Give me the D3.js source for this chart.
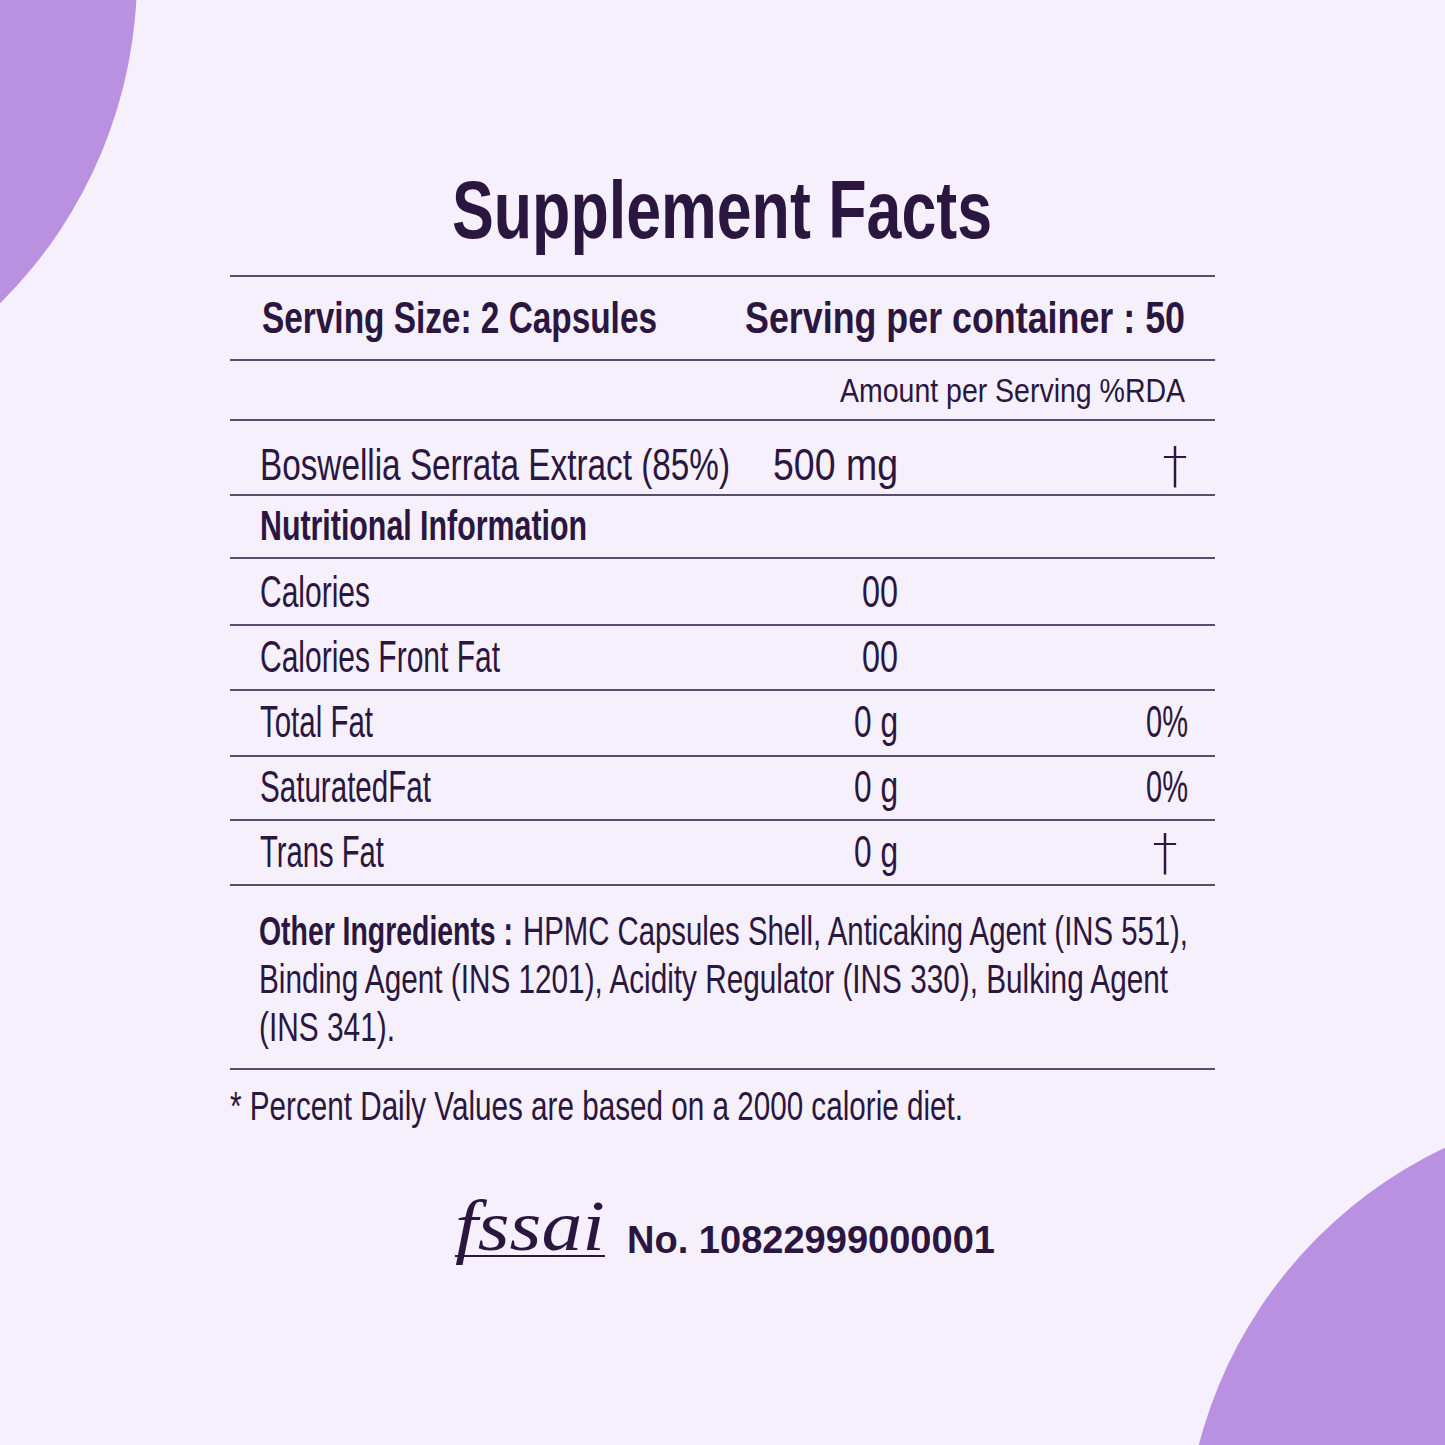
<!DOCTYPE html>
<html><head><meta charset="utf-8">
<script src="https://cdn.jsdelivr.net/npm/d3@7"></script>
<style>body{margin:0;background:#f5f0fb}</style>
</head><body><svg id="c"></svg>
<script>
const ink = "#2b1640";
const nutrients = ["Calories", "Calories Front Fat", "Total Fat", "SaturatedFat", "Trans Fat"];
const amounts = ["00", "00", "0 g", "0 g", "0 g"];
const rda = ["", "", "0%", "0%", "†"];
const ruleYs = [276, 360, 420, 495, 558, 625, 690, 756, 820, 885, 1069];
const otherLines = ["HPMC Capsules Shell, Anticaking Agent (INS 551),",
  "Binding Agent (INS 1201), Acidity Regulator (INS 330), Bulking Agent", "(INS 341)."];

const W = 1445;
const svg = d3.select("#c").attr("width", W).attr("height", W);
const F = "'Liberation Sans','Arial',sans-serif";
svg.append("rect").attr("width", W).attr("height", W).attr("fill", "#f5f0fb");
svg.append("circle").attr("cx", -325).attr("cy", -25).attr("r", 462).attr("fill", "#ba90e0");
svg.append("circle").attr("cx", 1640).attr("cy", 1560).attr("r", 456).attr("fill", "#ba90e0");

// draws text squeezed to a given width (condensed look)
function txt(x, y, s, size, weight, anchor, width) {
  const t = svg.append("text").attr("x", x).attr("y", y).text(s)
    .attr("font-family", F).attr("font-size", size).attr("font-weight", weight || "normal")
    .attr("text-anchor", anchor || "start").attr("fill", ink);
  if (width) t.attr("textLength", width).attr("lengthAdjust", "spacingAndGlyphs");
  return t;
}

txt(722, 238, "Supplement Facts", 82, "bold", "middle", 540);
svg.selectAll("line.rule").data(ruleYs).join("line").attr("class", "rule")
  .attr("x1", 230).attr("x2", 1215).attr("y1", d => d).attr("y2", d => d)
  .attr("stroke", ink).attr("stroke-width", 1.5);

txt(262, 333, "Serving Size: 2 Capsules", 44, "bold", "start", 395);
txt(1185, 333, "Serving per container : 50", 44, "bold", "end", 440);
txt(1185, 402, "Amount per Serving %RDA", 34, "normal", "end", 345);
txt(260, 480, "Boswellia Serrata Extract (85%)", 44, "normal", "start", 470);
txt(773, 480, "500 mg", 44, "normal", "start", 125);
txt(1175, 482, "†", 50, "normal", "middle").attr("font-family", "DejaVu Sans").attr("font-weight", "200");
txt(260, 540, "Nutritional Information", 42, "bold", "start", 327);

const nameW = [110, 240, 113, 171, 124];
const amtW = [36, 36, 44, 44, 44];
const rowY = d3.scaleLinear().domain([0, 1]).range([607, 672]);
nutrients.forEach((n, i) => {
  txt(260, rowY(i), n, 44, "normal", "start", nameW[i]);
  txt(898, rowY(i), amounts[i], 44, "normal", "end", amtW[i]);
  if (rda[i] === "†") txt(1165, rowY(i) + 2, "†", 50, "normal", "middle").attr("font-family", "DejaVu Sans").attr("font-weight", "200");
  else if (rda[i]) txt(1188, rowY(i), rda[i], 44, "normal", "end", 42);
});

txt(259, 945, "Other Ingredients :", 40, "bold", "start", 254);
txt(523, 945, otherLines[0], 40, "normal", "start", 665);
const olW = [909, 136];
otherLines.slice(1).forEach((l, i) => txt(259, 993 + 48 * i, l, 40, "normal", "start", olW[i]));

txt(230, 1120, "* Percent Daily Values are based on a 2000 calorie diet.", 40, "normal", "start", 733);

txt(455, 1250, "fssai", 72, "normal", "start", 150).attr("font-family", "'Liberation Serif',serif").attr("font-style", "italic");
svg.append("line").attr("x1", 455).attr("x2", 605).attr("y1", 1256).attr("y2", 1256).attr("stroke", ink).attr("stroke-width", 2);
txt(627, 1253, "No. 10822999000001", 38, "bold", "start", 368);
</script></body></html>
